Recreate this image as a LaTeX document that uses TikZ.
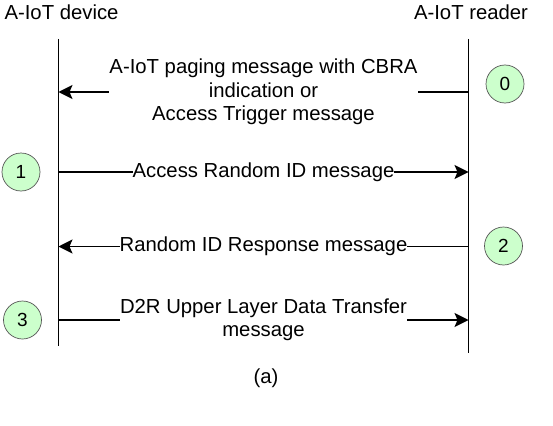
\documentclass[tikz,border=0pt]{standalone}
\usepackage{fontspec}
\setmainfont{Liberation Sans}
\usetikzlibrary{arrows.meta}
\definecolor{stepgreen}{HTML}{CCFFCC}
\definecolor{stepborder}{HTML}{555555}
\tikzset{
  lifeline/.style={line width=1.3pt, black},
  msgline/.style={line width=1.3pt, black, -{Stealth[length=14pt,width=14pt,inset=3pt]}},
  msglabel/.style={fill=white, inner xsep=0pt, inner ysep=1pt, align=center, font=\fontsize{20.3}{23.5}\selectfont},
  title/.style={inner sep=0pt, font=\fontsize{20.3}{24}\selectfont},
  stepcircle/.style={circle, draw=stepborder, line width=0.7pt, fill=stepgreen, minimum size=38pt, inner sep=0pt, font=\fontsize{19}{22}\selectfont}
}
\begin{document}
\begin{tikzpicture}[x=1pt,y=-1pt]
\useasboundingbox (0,0) rectangle (553,425);
% titles
\node[title] (tdev) at (61.5,12) {A-IoT device};
\node[title] (trd) at (471,12) {A-IoT reader};
% lifelines
\coordinate (devtop) at (58.5,39);
\coordinate (devbot) at (58.5,346);
\coordinate (rdtop) at (468.5,39);
\coordinate (rdbot) at (468.5,353);
\draw[lifeline] (devtop) -- (devbot);
\draw[lifeline] (rdtop) -- (rdbot);
% message anchor points
\coordinate (d0) at (58.5,92);
\coordinate (r0) at (468.5,92);
\coordinate (d1) at (58.5,172);
\coordinate (r1) at (468.5,172);
\coordinate (d2) at (58.5,246.5);
\coordinate (r2) at (468.5,246.5);
\coordinate (d3) at (58.5,320);
\coordinate (r3) at (468.5,320);
% messages
\draw[msgline] (r0) -- (d0) node[midway, msglabel] (m0) {A-IoT paging message with CBRA\\indication or\\Access Trigger message};
\draw[msgline] (d1) -- (r1) node[midway, msglabel] (m1) {Access Random ID message};
\draw[msgline] (r2) -- (d2) node[midway, msglabel] (m2) {Random ID Response message};
\draw[msgline] (d3) -- (r3) node[midway, msglabel] (m3) {D2R Upper Layer Data Transfer\\message};
% step markers
\node[stepcircle] (c0) at (505,84) {0};
\node[stepcircle] (c1) at (21,172) {1};
\node[stepcircle] (c2) at (503.5,246) {2};
\node[stepcircle] (c3) at (22.5,320) {3};
% caption
\node[title] (cap) at (266,378) {(a)};
\end{tikzpicture}
\end{document}
